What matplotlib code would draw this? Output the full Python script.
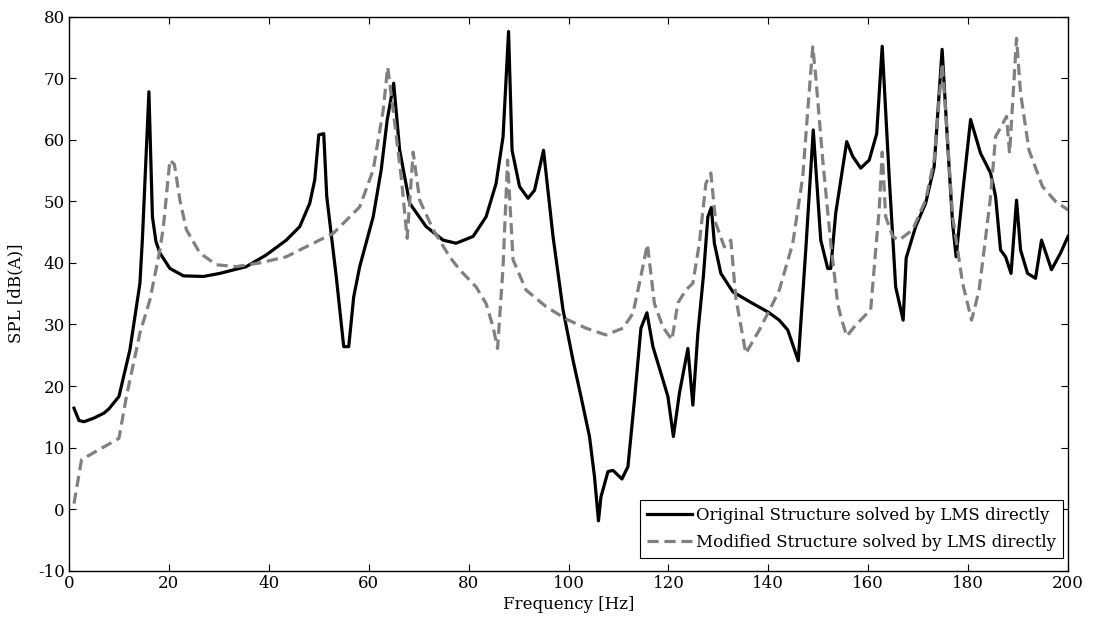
import matplotlib
matplotlib.use("Agg")
import matplotlib.pyplot as plt

# Original Structure (solid black)
f_orig = [1, 2, 3, 5, 7, 8, 10, 12.2, 14.2, 14.7, 16, 16.7, 17.4, 18.2, 20.2, 22.9, 26.9, 30.2,
          35.5, 39.5, 43.5, 46.2, 48.2, 49.2, 50, 51, 51.6, 53.5, 55, 56, 57, 58.2, 60.9, 62.5,
          63.7, 65, 66.2, 68.2, 71.5, 74.9, 77.5, 80.9, 83.5, 85.5, 86.9, 88, 88.7, 90.2, 91.9,
          93.2, 95, 96.9, 98.9, 100.9, 102.5, 104.2, 105.2, 106, 106.5, 107.9, 108.9, 110.7,
          111.9, 113.2, 114.5, 115.7, 116.9, 118.5, 119.9, 121, 122.2, 123.9, 124.9, 125.9,
          127, 127.9, 128.6, 129.2, 130.5, 132.9, 136.9, 140, 142.2, 143.9, 146, 147.5, 149,
          150.5, 151.9, 152.5, 153.5, 155.7, 156.9, 158.5, 160.2, 161.7, 162.8, 164.2, 165.5,
          167, 167.6, 169.5, 171.5, 173.2, 174.8, 175.9, 176.9, 177.6, 178.9, 180.5, 182.5,
          184.5, 185.5, 186.5, 187.5, 188.6, 189.7, 190.5, 191.9, 193.5, 194.7, 196.7, 198.5, 200]
spl_orig = [16.4, 14.4, 14.2, 14.8, 15.6, 16.3, 18.3, 25.9, 36.7, 44.0, 67.8, 47.5, 43.5, 41.6,
            39.1, 37.9, 37.8, 38.3, 39.4, 41.3, 43.7, 45.9, 49.7, 53.5, 60.8, 61.0, 50.8, 37.8,
            26.4, 26.4, 34.5, 39.4, 47.5, 55.1, 63.2, 69.2, 58.3, 49.7, 45.9, 43.7, 43.2, 44.3,
            47.5, 52.9, 60.5, 77.6, 58.3, 52.4, 50.5, 51.8, 58.3, 44.3, 32.4, 24.2, 18.3, 11.8,
            5.3, -1.9, 2.0, 6.1, 6.3, 4.9, 6.9, 17.7, 29.4, 31.9, 26.4, 22.1, 18.3, 11.8, 18.8,
            26.1, 16.9, 28.6, 37.8, 47.5, 49.0, 43.2, 38.3, 35.3, 33.4, 32.0, 30.7, 29.1, 24.1,
            42.1, 61.6, 43.7, 39.1, 39.1, 48.1, 59.7, 57.3, 55.4, 56.7, 61.0, 75.2, 54.0, 36.1,
            30.7, 40.8, 45.9, 49.7, 55.6, 74.7, 59.4, 46.4, 41.0, 51.3, 63.3, 57.8, 54.6, 50.8,
            42.1, 41.0, 38.3, 50.2, 42.1, 38.3, 37.5, 43.7, 38.9, 41.6, 44.3]

# Modified Structure (dashed grey)
f_mod = [1, 2.5, 3.5, 10, 11.5, 14.2, 16.2, 18.2, 18.9, 20.2, 21.1, 22.2, 23.5, 26.2, 29.5,
         33.5, 38.2, 43.5, 48.9, 52.9, 58.2, 60.9, 62.9, 63.8, 64.9, 66.5, 67.7, 68.9, 70.2,
         72.9, 76.2, 78.2, 79.5, 81.5, 83.5, 84.9, 85.8, 86.9, 87.8, 88.9, 91.5, 95.5, 99.5,
         103.5, 107.5, 110.9, 112.9, 114.2, 115.8, 117.2, 118.9, 120.7, 121.9, 123.5, 124.9,
         126.2, 127.5, 128.5, 129.5, 131.2, 132.5, 133.5, 135.5, 138.2, 140.9, 142.2, 144.9,
         146.9, 147.9, 148.9, 149.5, 150.9, 152.5, 153.9, 154.5, 155.7, 157.5, 160.5, 161.5,
         162.2, 162.8, 163.5, 164.9, 166.2, 168.9, 171.5, 173.2, 174.8, 175.5, 176.9, 178.9,
         180.7, 182.2, 183.2, 184.5, 185.5, 187.7, 188.3, 189.7, 190.5, 192.2, 194.9, 197.5, 200]
spl_mod = [0.9, 8.0, 8.5, 11.5, 18.3, 28.6, 34.0, 42.1, 45.9, 56.7, 56.0, 50.2, 45.4, 41.6,
           39.7, 39.4, 40.0, 41.0, 43.2, 44.8, 49.1, 55.1, 64.8, 71.8, 64.8, 54.0, 44.0, 58.0,
           50.2, 45.4, 41.0, 38.9, 37.8, 36.1, 33.4, 29.6, 26.1, 39.4, 56.7, 40.5, 35.6, 32.9,
           30.9, 29.4, 28.3, 29.4, 31.8, 36.7, 43.0, 33.4, 29.6, 27.5, 33.5, 35.6, 36.7, 43.2,
           52.9, 54.6, 46.4, 42.6, 43.7, 34.3, 25.3, 29.1, 33.4, 35.6, 43.2, 54.0, 64.8, 75.1,
           70.3, 56.7, 43.2, 33.4, 31.3, 28.1, 29.9, 32.4, 42.1, 48.6, 58.0, 47.5, 44.3, 43.7,
           45.4, 50.2, 56.7, 72.4, 64.8, 47.5, 36.7, 30.7, 35.6, 42.1, 50.8, 60.5, 63.8, 57.8,
           76.5, 67.6, 58.3, 52.4, 50.0, 48.6]

x_ticks = list(range(0, 201, 20))
y_ticks = list(range(-10, 81, 10))
labels = ["Original Structure solved by LMS directly",
          "Modified Structure solved by LMS directly"]

plt.rcParams['font.family'] = ['DejaVu Serif']
plt.rcParams['font.size'] = 12
plt.rcParams['axes.unicode_minus'] = False

fig = plt.figure(figsize=(10.93, 6.22), dpi=100)
ax = fig.add_axes([69 / 1093, 51.3 / 622, 999 / 1093, 554 / 622])

ax.plot(f_orig, spl_orig, color='black', lw=2.3, label=labels[0], solid_joinstyle='round')
ax.plot(f_mod, spl_mod, color='#808080', lw=2.3, ls='--', label=labels[1],
        dashes=(3.5, 1.8))

ax.set_xlim(0, 200)
ax.set_ylim(-10, 80)
ax.set_xticks(x_ticks)
ax.set_yticks(y_ticks)
ax.tick_params(direction='in', top=True, right=True, length=5, width=0.8, pad=3,
               labelsize=12)
for s in ax.spines.values():
    s.set_linewidth(1.0)
ax.set_xlabel("Frequency [Hz]", fontsize=12)
ax.set_ylabel("SPL [dB(A)]", fontsize=12)
ax.xaxis.set_label_coords(0.5, -0.045)
ax.yaxis.set_label_coords(-0.045, 0.5)

leg = ax.legend(loc='lower right', bbox_to_anchor=(0.997, 0.0195), fancybox=False,
                edgecolor='black', framealpha=1, borderpad=0.42, labelspacing=0.6,
                handlelength=2.7, handletextpad=0.25, borderaxespad=0.1, fontsize=12)
leg.get_frame().set_linewidth(0.8)

fig.savefig("out.png", dpi=100)
